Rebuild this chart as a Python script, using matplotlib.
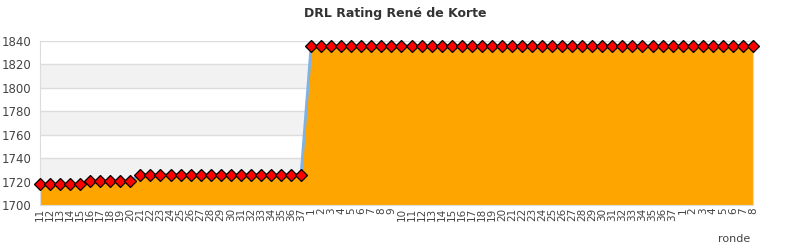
import numpy as np
import matplotlib
matplotlib.use('Agg')
from matplotlib import pyplot as plt

# rondes: 11..37, 1..37, 1..8
rondes = [str(r) for r in range(11, 38)] + [str(r) for r in range(1, 38)] + [str(r) for r in range(1, 9)]
rating = ([1718] * 5 + [1720.5] * 5 + [1726] * 17 + [1836] * 45)
yticks = [1700, 1720, 1740, 1760, 1780, 1800, 1820, 1840]

fig = plt.figure(figsize=(7.9, 2.5), dpi=100)
ax = fig.add_axes([0.0506, 0.18, 0.9025, 0.656])

x = np.arange(len(rating))

# afwisselende achtergrond banden
for i in range(len(yticks) - 1):
    if i % 2 == 1:
        ax.axhspan(yticks[i], yticks[i + 1], color='#f2f2f2', zorder=0, lw=0)
for t in yticks[1:]:
    ax.axhline(t, color='#dcdcdc', lw=1, zorder=0.5)

ax.fill_between(x, 1700, rating, color='#ffa500', lw=0, zorder=1)
ax.plot(x, rating, color='#7fb2e5', lw=2, zorder=2)
ax.plot(x, rating, ls='none', marker='D', ms=5.8, mfc='#ff0000', mec='black', mew=0.9,
        zorder=3, clip_on=False)

ax.set_xlim(0, len(rating) - 1)
ax.set_ylim(1700, 1840)
ax.set_yticks(yticks)
ax.set_xticks(x)
ax.set_xticklabels(rondes, rotation=90, fontsize=7.5, color='#444444')
ax.tick_params(axis='y', labelsize=8.5, colors='#444444', length=0, pad=6)
ax.tick_params(axis='x', length=0, pad=2)

for s in ['top']:
    ax.spines[s].set_visible(False)
for s in ['left', 'bottom', 'right']:
    ax.spines[s].set_color('#dcdcdc')

fig.text(0.5, 0.93, 'DRL Rating René de Korte', ha='center', fontsize=9,
         fontweight='bold', color='#333333')
fig.text(0.95, 0.03, 'ronde', ha='right', fontsize=8, color='#444444')

plt.savefig('out.png', dpi=100)
